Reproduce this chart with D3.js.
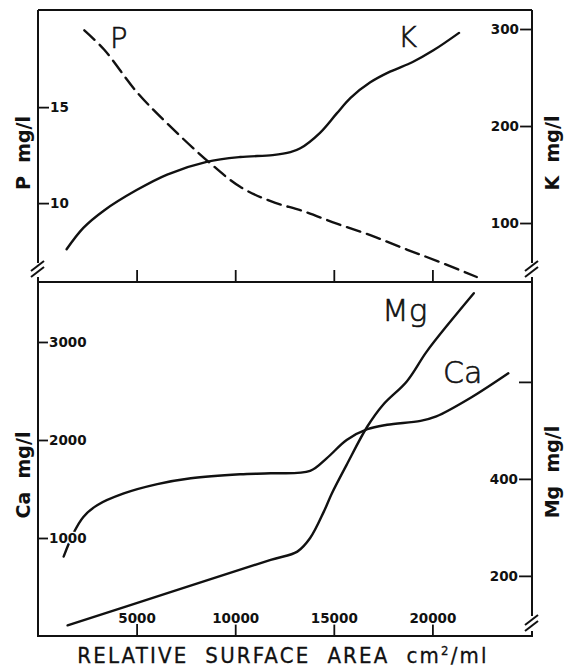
<!DOCTYPE html>
<html>
<head>
<meta charset="utf-8">
<script src="https://cdn.jsdelivr.net/npm/d3@7"></script>
<style>
  html, body { margin: 0; padding: 0; background: #fff; }
  svg { display: block; }
  .tick text {
    font-family: "DejaVu Sans", sans-serif;
    font-weight: bold;
    font-size: 13.5px;
    fill: #111;
    stroke: #fff;
    stroke-width: 3px;
    paint-order: stroke;
  }
  .tick line { stroke: #111; stroke-width: 1.8px; }
  .curve { fill: none; stroke: #111; stroke-width: 2.4px; stroke-linejoin: round; stroke-linecap: round; }
  .frame { stroke: #111; stroke-width: 2px; fill: none; }
  .ytitle { font-family: "DejaVu Sans", sans-serif; font-weight: bold; font-size: 19px; fill: #111; white-space: pre; }
  .series { font-family: "DejaVu Sans", sans-serif; font-weight: 200; fill: #111; stroke: #111; stroke-width: 0.6px; }
  .xtitle { font-family: "DejaVu Sans Condensed", "DejaVu Sans", sans-serif; font-stretch: condensed; font-size: 22px; letter-spacing: 2.2px; fill: #111; stroke: #111; stroke-width: 0.3px; white-space: pre; }
</style>
</head>
<body>
<svg id="chart" width="568" height="671"></svg>
<script>
// Relative surface area (cm²/ml) sampled along each curve, with the measured concentrations (mg/l)
const pArea   = [2350, 3350, 5000, 6550, 8650, 10250, 11800, 13450, 15150, 16850, 18500, 20250, 22250];
const pValues = [19.0, 18.0, 15.8, 14.15, 12.15, 10.85, 10.1, 9.58, 8.93, 8.33, 7.66, 6.98, 6.15];

const kArea   = [1450, 2300, 3350, 5000, 6550, 8550, 10250, 11900, 12800, 13300, 14300, 15150, 15850, 16850, 17850, 19000, 20050, 21350];
const kValues = [73, 95, 113, 134, 150, 163, 168, 170, 173, 177, 193, 213, 229, 245, 256, 266, 278, 296];

const caArea   = [1300, 1800, 2300, 3000, 4350, 6050, 7750, 10250, 11800, 13800, 14650, 15650, 16700, 17700, 19400, 20200, 21900, 23850];
const caValues = [810, 1050, 1215, 1335, 1455, 1550, 1610, 1650, 1660, 1685, 1815, 2000, 2110, 2155, 2195, 2240, 2425, 2680];

const mgArea   = [1500, 6600, 11800, 13150, 13800, 14500, 14900, 15650, 16700, 17500, 18700, 19700, 20900, 22100];
const mgValues = [98, 165, 233, 250, 278, 333, 370, 429, 508, 553, 601, 662, 724, 783];

// Tick values and labels
const areaTicks = [5000, 10000, 15000, 20000];
const pTicks = [10, 15];
const kTicks = [100, 200, 300];
const caTicks = [1000, 2000, 3000];
const mgTicks = [200, 400, 600];
const mgTickLabels = ["200", "400", ""];

// Frame geometry
const L = 38, R = 532, T = 10, M = 282, B = 636;

const svg = d3.select("#chart");

const x = d3.scaleLinear().domain([0, 25050]).range([L, R]);
const yP = d3.scaleLinear().domain([5.89, 20.06]).range([M, T]);
const yK = d3.scaleLinear().domain([39.2, 319.6]).range([M, T]);
const yCa = d3.scaleLinear().domain([0, 3612]).range([B, M]);
const yMg = d3.scaleLinear().domain([76, 806]).range([B, M]);

const pairs = (xs, ys) => xs.map((d, i) => [d, ys[i]]);
const lineOf = (ys) => d3.line().x(d => x(d[0])).y(d => ys(d[1])).curve(d3.curveCatmullRom.alpha(0.5));

// Curves
svg.append("path").attr("class", "curve").attr("stroke-dasharray", "14,7")
  .attr("d", lineOf(yP)(pairs(pArea, pValues)));
svg.append("path").attr("class", "curve")
  .attr("d", lineOf(yK)(pairs(kArea, kValues)));
svg.append("path").attr("class", "curve")
  .attr("d", lineOf(yCa)(pairs(caArea, caValues)));
svg.append("path").attr("class", "curve")
  .attr("d", lineOf(yMg)(pairs(mgArea, mgValues)));

// Frame with axis breaks
const frame = svg.append("g").attr("class", "frame");
const seg = (x1, y1, x2, y2) => frame.append("line").attr("x1", x1).attr("y1", y1).attr("x2", x2).attr("y2", y2);
seg(L, T, R, T);
seg(L - 1, M, R + 1, M);
seg(L - 1, B, R + 1, B);
// left axis: top panel broken near its base, bottom panel continuous
seg(L, T, L, 263); seg(L, 277, L, M);
seg(L, M, L, B);
// right axis: both panels broken near their base
seg(R, T, R, 263); seg(R, 277, R, M);
seg(R, M, R, 616); seg(R, 631, R, B);
const brk = (cx, cy) => {
  seg(cx - 7, cy + 1, cx + 6, cy - 9);
  seg(cx - 7, cy + 7, cx + 6, cy - 3);
};
brk(L, 270);
brk(R, 270);
brk(R, 624);

// Axes (ticks point inward, labels inside the frame)
const noDomain = g => g.select(".domain").remove();
svg.append("g").attr("transform", `translate(${L},0)`)
  .call(d3.axisRight(yP).tickValues(pTicks).tickSize(11).tickPadding(1).tickFormat(d3.format("d")))
  .call(noDomain);
svg.append("g").attr("transform", `translate(${R},0)`)
  .call(d3.axisLeft(yK).tickValues(kTicks).tickSize(12).tickPadding(1).tickFormat(d3.format("d")))
  .call(noDomain);
svg.append("g").attr("transform", `translate(${L},0)`)
  .call(d3.axisRight(yCa).tickValues(caTicks).tickSize(10).tickPadding(1).tickFormat(d3.format("d")))
  .call(noDomain);
svg.append("g").attr("transform", `translate(${R},0)`)
  .call(d3.axisLeft(yMg).tickValues(mgTicks).tickSize(13).tickPadding(1).tickFormat((d, i) => mgTickLabels[i]))
  .call(noDomain);
svg.append("g").attr("transform", `translate(0,${M})`)
  .call(d3.axisTop(x).tickValues(areaTicks).tickSize(12).tickFormat(""))
  .call(noDomain);
svg.append("g").attr("transform", `translate(0,${B})`)
  .call(d3.axisTop(x).tickValues(areaTicks).tickSize(12).tickPadding(1).tickFormat(d3.format("d")))
  .call(noDomain);

// Axis titles
const ytitle = (tx, ty, txt) => svg.append("text").attr("class", "ytitle")
  .attr("transform", `translate(${tx},${ty}) rotate(-90)`).attr("text-anchor", "middle").text(txt);
ytitle(30, 153, "P  mg/l");
ytitle(559, 153, "K  mg/l");
ytitle(30, 475, "Ca  mg/l");
ytitle(559, 472, "Mg  mg/l");

const xt = svg.append("text").attr("class", "xtitle").attr("x", 283).attr("y", 663).attr("text-anchor", "middle");
xt.append("tspan").text("RELATIVE  SURFACE  AREA  cm");
xt.append("tspan").attr("dy", -8).attr("font-size", "13px").text("2");
xt.append("tspan").attr("dy", 8).text("/ml");

// Series names
const series = (tx, ty, size, txt) => svg.append("text").attr("class", "series")
  .attr("x", tx).attr("y", ty).attr("font-size", size + "px").text(txt);
series(110, 48, 29, "P");
series(398, 47, 29, "K");
series(382, 321, 31, "Mg");
series(443, 383, 30, "Ca");
</script>
</body>
</html>
